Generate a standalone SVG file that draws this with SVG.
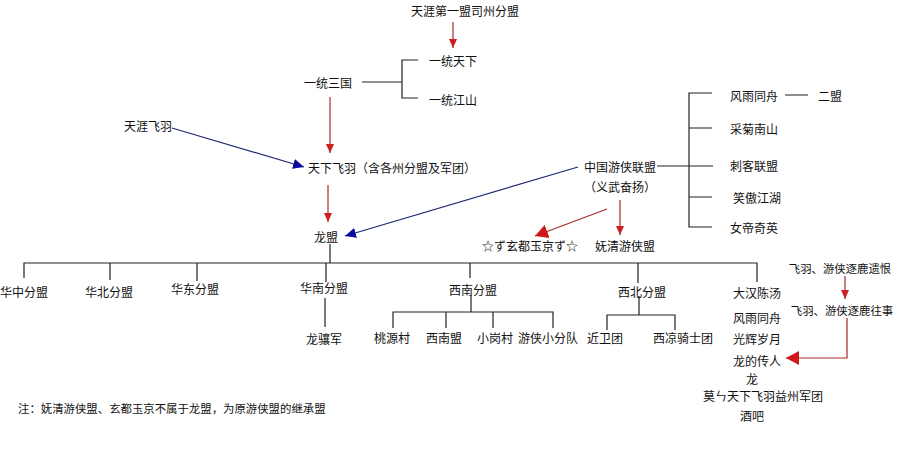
<svg xmlns="http://www.w3.org/2000/svg" width="898" height="459" viewBox="0 0 898 459">
<style>
text{font-family:"Noto Sans CJK SC","Noto Sans",sans-serif;font-size:12px;fill:#111;dominant-baseline:central}
.m{text-anchor:middle}
.s{font-size:11.4px}
.ln{stroke:#222;stroke-width:1.2;fill:none}
.red{stroke:#a52a2a;stroke-width:1.2;fill:none}
.blue{stroke:#1e2a78;stroke-width:1.2;fill:none}
</style>
<defs>
<marker id="ar" markerUnits="userSpaceOnUse" markerWidth="10" markerHeight="10" refX="9" refY="5" orient="auto"><path d="M0,1 L9,5 L0,9 Z" fill="#cc1f1f"/></marker>
<marker id="arb" markerUnits="userSpaceOnUse" markerWidth="14" markerHeight="14" refX="13" refY="7" orient="auto"><path d="M0,0 L13,7 L0,14 Z" fill="#d01818"/></marker>
<marker id="ab" markerUnits="userSpaceOnUse" markerWidth="12" markerHeight="12" refX="11" refY="6" orient="auto"><path d="M0,1 L11,6 L0,11 Z" fill="#0a0a9a"/></marker>
</defs>
<rect width="898" height="459" fill="#fff"/>
<g id="connectors">
<line class="red" x1="453" y1="22" x2="453" y2="48" marker-end="url(#ar)"/>
<path class="ln" d="M362,82 H402 M418,60 H402 V98 H418"/>
<line class="red" x1="330" y1="97" x2="330" y2="153" marker-end="url(#ar)"/>
<line class="blue" x1="172" y1="128" x2="304" y2="167" marker-end="url(#ab)"/>
<line class="red" x1="328" y1="185" x2="328" y2="222" marker-end="url(#ar)"/>
<line class="blue" x1="578" y1="167" x2="345" y2="236" marker-end="url(#ab)"/>
<path class="ln" d="M657,166 H713 M712,93 H689 V227 H712 M689,128 H712 M689,197 H712 M785,95 H808"/>
<line class="red" x1="607" y1="209" x2="535" y2="236" marker-end="url(#arb)"/>
<line class="red" x1="620" y1="200" x2="620" y2="235" marker-end="url(#ar)"/>
<path class="ln" d="M330,244 V263 M24,278 V263 H757 V282 M110,263 V280 M197,263 V281 M326,263 V282 M470,263 V278 M638,263 V283"/>
<path class="ln" d="M325,298 V327"/>
<path class="ln" d="M471,295 V312 M393,328 V312 H553 V328 M446,312 V328 M493,312 V328"/>
<path class="ln" d="M639,296 V315 M607,330 V315 H675 V330"/>
<line class="red" x1="845" y1="276" x2="845" y2="299" marker-end="url(#ar)"/>
<path class="red" d="M847,318 V358 H786" marker-end="url(#arb)"/>
</g>
<g id="n-sizhou"><text class="m" x="465" y="10">天涯第一盟司州分盟</text></g>
<g id="n-yitongtianxia"><text class="m" x="453" y="60">一统天下</text></g>
<g id="n-yitongjiangshan"><text class="m" x="453" y="99">一统江山</text></g>
<g id="n-yitongsanguo"><text class="m" x="328" y="82">一统三国</text></g>
<g id="n-tianyafeiyu"><text class="m" x="148" y="125">天涯飞羽</text></g>
<g id="n-tianxiafeiyu"><text x="308" y="167">天下飞羽（含各州分盟及军团）</text></g>
<g id="n-longmeng"><text class="m" x="326" y="236">龙盟</text></g>
<g id="n-zhongguo"><text class="m" x="620" y="166">中国游侠联盟</text><text class="m" x="620" y="186">（义武奋扬）</text></g>
<g id="n-xuandu"><text class="m" x="530" y="245">☆ず玄都玉京ず☆</text></g>
<g id="n-wuqing"><text class="m" x="625" y="245">妩清游侠盟</text></g>
<g id="n-fengyu1"><text class="m" x="754" y="95">风雨同舟</text></g>
<g id="n-ermeng"><text class="m" x="830" y="95">二盟</text></g>
<g id="n-caiju"><text class="m" x="754" y="128">采菊南山</text></g>
<g id="n-cike"><text class="m" x="754" y="165">刺客联盟</text></g>
<g id="n-xiaoao"><text class="m" x="757" y="197">笑傲江湖</text></g>
<g id="n-nvdi"><text class="m" x="754" y="227">女帝奇英</text></g>
<g id="n-huazhong"><text class="m" x="24" y="291">华中分盟</text></g>
<g id="n-huabei"><text class="m" x="109" y="291">华北分盟</text></g>
<g id="n-huadong"><text class="m" x="195" y="288">华东分盟</text></g>
<g id="n-huanan"><text class="m" x="324" y="287">华南分盟</text></g>
<g id="n-longxiang"><text class="m" x="324" y="338">龙骧军</text></g>
<g id="n-xinan"><text class="m" x="473" y="289">西南分盟</text></g>
<g id="n-taoyuan"><text class="m" x="392" y="337">桃源村</text></g>
<g id="n-xinanmeng"><text class="m" x="444" y="337">西南盟</text></g>
<g id="n-xiaogang"><text class="m" x="495" y="337">小岗村</text></g>
<g id="n-youxia"><text class="m" x="548" y="337">游侠小分队</text></g>
<g id="n-xibei"><text class="m" x="642" y="291">西北分盟</text></g>
<g id="n-jinwei"><text class="m" x="605" y="337">近卫团</text></g>
<g id="n-xiliang"><text class="m" x="683" y="337">西凉骑士团</text></g>
<g id="n-right"><text class="m" x="757" y="292">大汉陈汤</text><text class="m" x="757" y="317">风雨同舟</text><text class="m" x="757" y="338">光辉岁月</text><text class="m" x="757" y="360">龙的传人</text><text class="m" x="752" y="378">龙</text><text class="m" x="763" y="395">莫ㄣ天下飞羽益州军团</text><text class="m" x="752" y="415">酒吧</text></g>
<g id="n-yihen"><text class="m s" x="840" y="268">飞羽、游侠逐鹿遗恨</text></g>
<g id="n-wangshi"><text class="m s" x="842" y="310">飞羽、游侠逐鹿往事</text></g>
<g id="n-note"><text class="s" x="18" y="408">注：妩清游侠盟、玄都玉京不属于龙盟，为原游侠盟的继承盟</text></g>
</svg>
